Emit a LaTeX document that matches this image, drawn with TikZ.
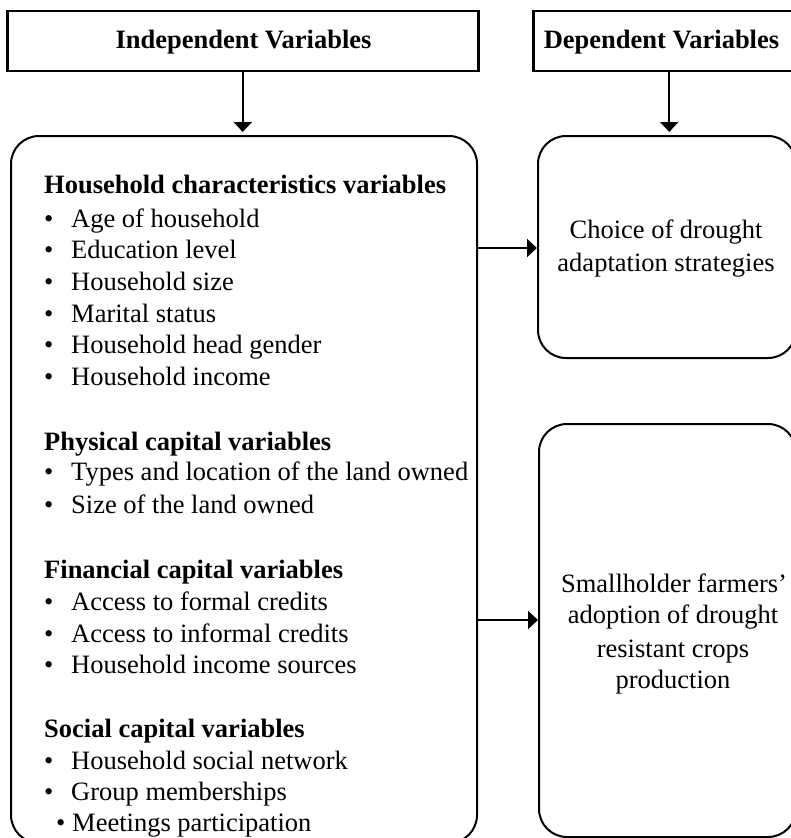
\documentclass[tikz,border=0pt]{standalone}
\usepackage{fontspec}
\setmainfont{Liberation Serif}
\usetikzlibrary{arrows.meta}
\begin{document}
\begin{tikzpicture}[x=1pt,y=-1pt,
  topbox/.style={draw, line width=2.5pt, anchor=north west, inner sep=0pt},
  rbox/.style={draw, line width=2pt, rounded corners=28pt, anchor=north west, inner sep=0pt},
  txt/.style={inner sep=0pt, anchor=base west, font=\fontsize{26.5}{32}\selectfont},
  ctxt/.style={inner sep=0pt, anchor=base, font=\fontsize{26.5}{32}\selectfont},
  hd/.style={inner sep=0pt, anchor=base west, font=\fontsize{26.5}{32}\selectfont\bfseries},
  bul/.style={inner sep=0pt, anchor=base west, font=\fontsize{26.5}{32}\selectfont},
  arr/.style={line width=2pt, -{Triangle[length=10pt,width=18pt]}}]
\useasboundingbox (0,0) rectangle (791,838);
\clip (0,0) rectangle (791,838);

% top boxes
\node[topbox, minimum width=471pt, minimum height=60pt] (T1) at (6,9.5) {};
\node[topbox, minimum width=272pt, minimum height=60pt] (T2) at (532,9.5) {};
\node[ctxt, font=\fontsize{26.5}{32}\selectfont\bfseries] (t1) at (243.5,48) {Independent Variables};
\node[ctxt, font=\fontsize{26.5}{32}\selectfont\bfseries] (t2) at (661.5,48) {Dependent Variables};

% main boxes
\node[rbox, minimum width=466pt, minimum height=707pt] (L) at (10,135) {};
\node[rbox, minimum width=258pt, minimum height=222pt] (R1) at (537,135) {};
\node[rbox, minimum width=257pt, minimum height=413pt] (R2) at (538,423) {};

% arrows
\draw[arr, shorten >=3pt] (T1.south) -- (T1.south |- L.north);
\draw[arr, shorten >=3pt] (T2.south) -- (T2.south |- R1.north);
\coordinate (a1) at (0,248);
\coordinate (a2) at (0,620);
\draw[arr] (L.east |- a1) -- (R1.west |- a1);
\draw[arr] (L.east |- a2) -- (R2.west |- a2);

% left box text
\node[hd] (h1) at (44,193) {Household characteristics variables};
\node[bul] (b11) at (44,227) {\textbullet}; \node[txt] (i11) at (71,227) {Age of household};
\node[bul] (b12) at (44,258) {\textbullet}; \node[txt] (i12) at (71,258) {Education level};
\node[bul] (b13) at (44,290) {\textbullet}; \node[txt] (i13) at (71,290) {Household size};
\node[bul] (b14) at (44,322) {\textbullet}; \node[txt] (i14) at (71,322) {Marital status};
\node[bul] (b15) at (44,353) {\textbullet}; \node[txt] (i15) at (71,353) {Household head gender};
\node[bul] (b16) at (44,385) {\textbullet}; \node[txt] (i16) at (71,385) {Household income};

\node[hd] (h2) at (44,450) {Physical capital variables};
\node[bul] (b21) at (44,480) {\textbullet}; \node[txt] (i21) at (71,480) {Types and location of the land owned};
\node[bul] (b22) at (44,513) {\textbullet}; \node[txt] (i22) at (71,513) {Size of the land owned};

\node[hd] (h3) at (44,578) {Financial capital variables};
\node[bul] (b31) at (44,610) {\textbullet}; \node[txt] (i31) at (71,610) {Access to formal credits};
\node[bul] (b32) at (44,642) {\textbullet}; \node[txt] (i32) at (71,642) {Access to informal credits};
\node[bul] (b33) at (44,673) {\textbullet}; \node[txt] (i33) at (71,673) {Household income sources};

\node[hd] (h4) at (44,737) {Social capital variables};
\node[bul] (b41) at (44,769) {\textbullet}; \node[txt] (i41) at (71,769) {Household social network};
\node[bul] (b42) at (44,800) {\textbullet}; \node[txt] (i42) at (71,800) {Group memberships};
\node[bul] (b43) at (56,831) {\textbullet}; \node[txt] (i43) at (72,831) {Meetings participation};

% right box texts
\node[ctxt] (r11) at (666,238) {Choice of drought};
\node[ctxt] (r12) at (666,271) {adaptation strategies};

\node[ctxt] (r21) at (674,592) {Smallholder farmers’};
\node[ctxt] (r22) at (673,623) {adoption of drought};
\node[ctxt] (r23) at (673,657) {resistant crops};
\node[ctxt] (r24) at (673,688) {production};
\end{tikzpicture}
\end{document}
